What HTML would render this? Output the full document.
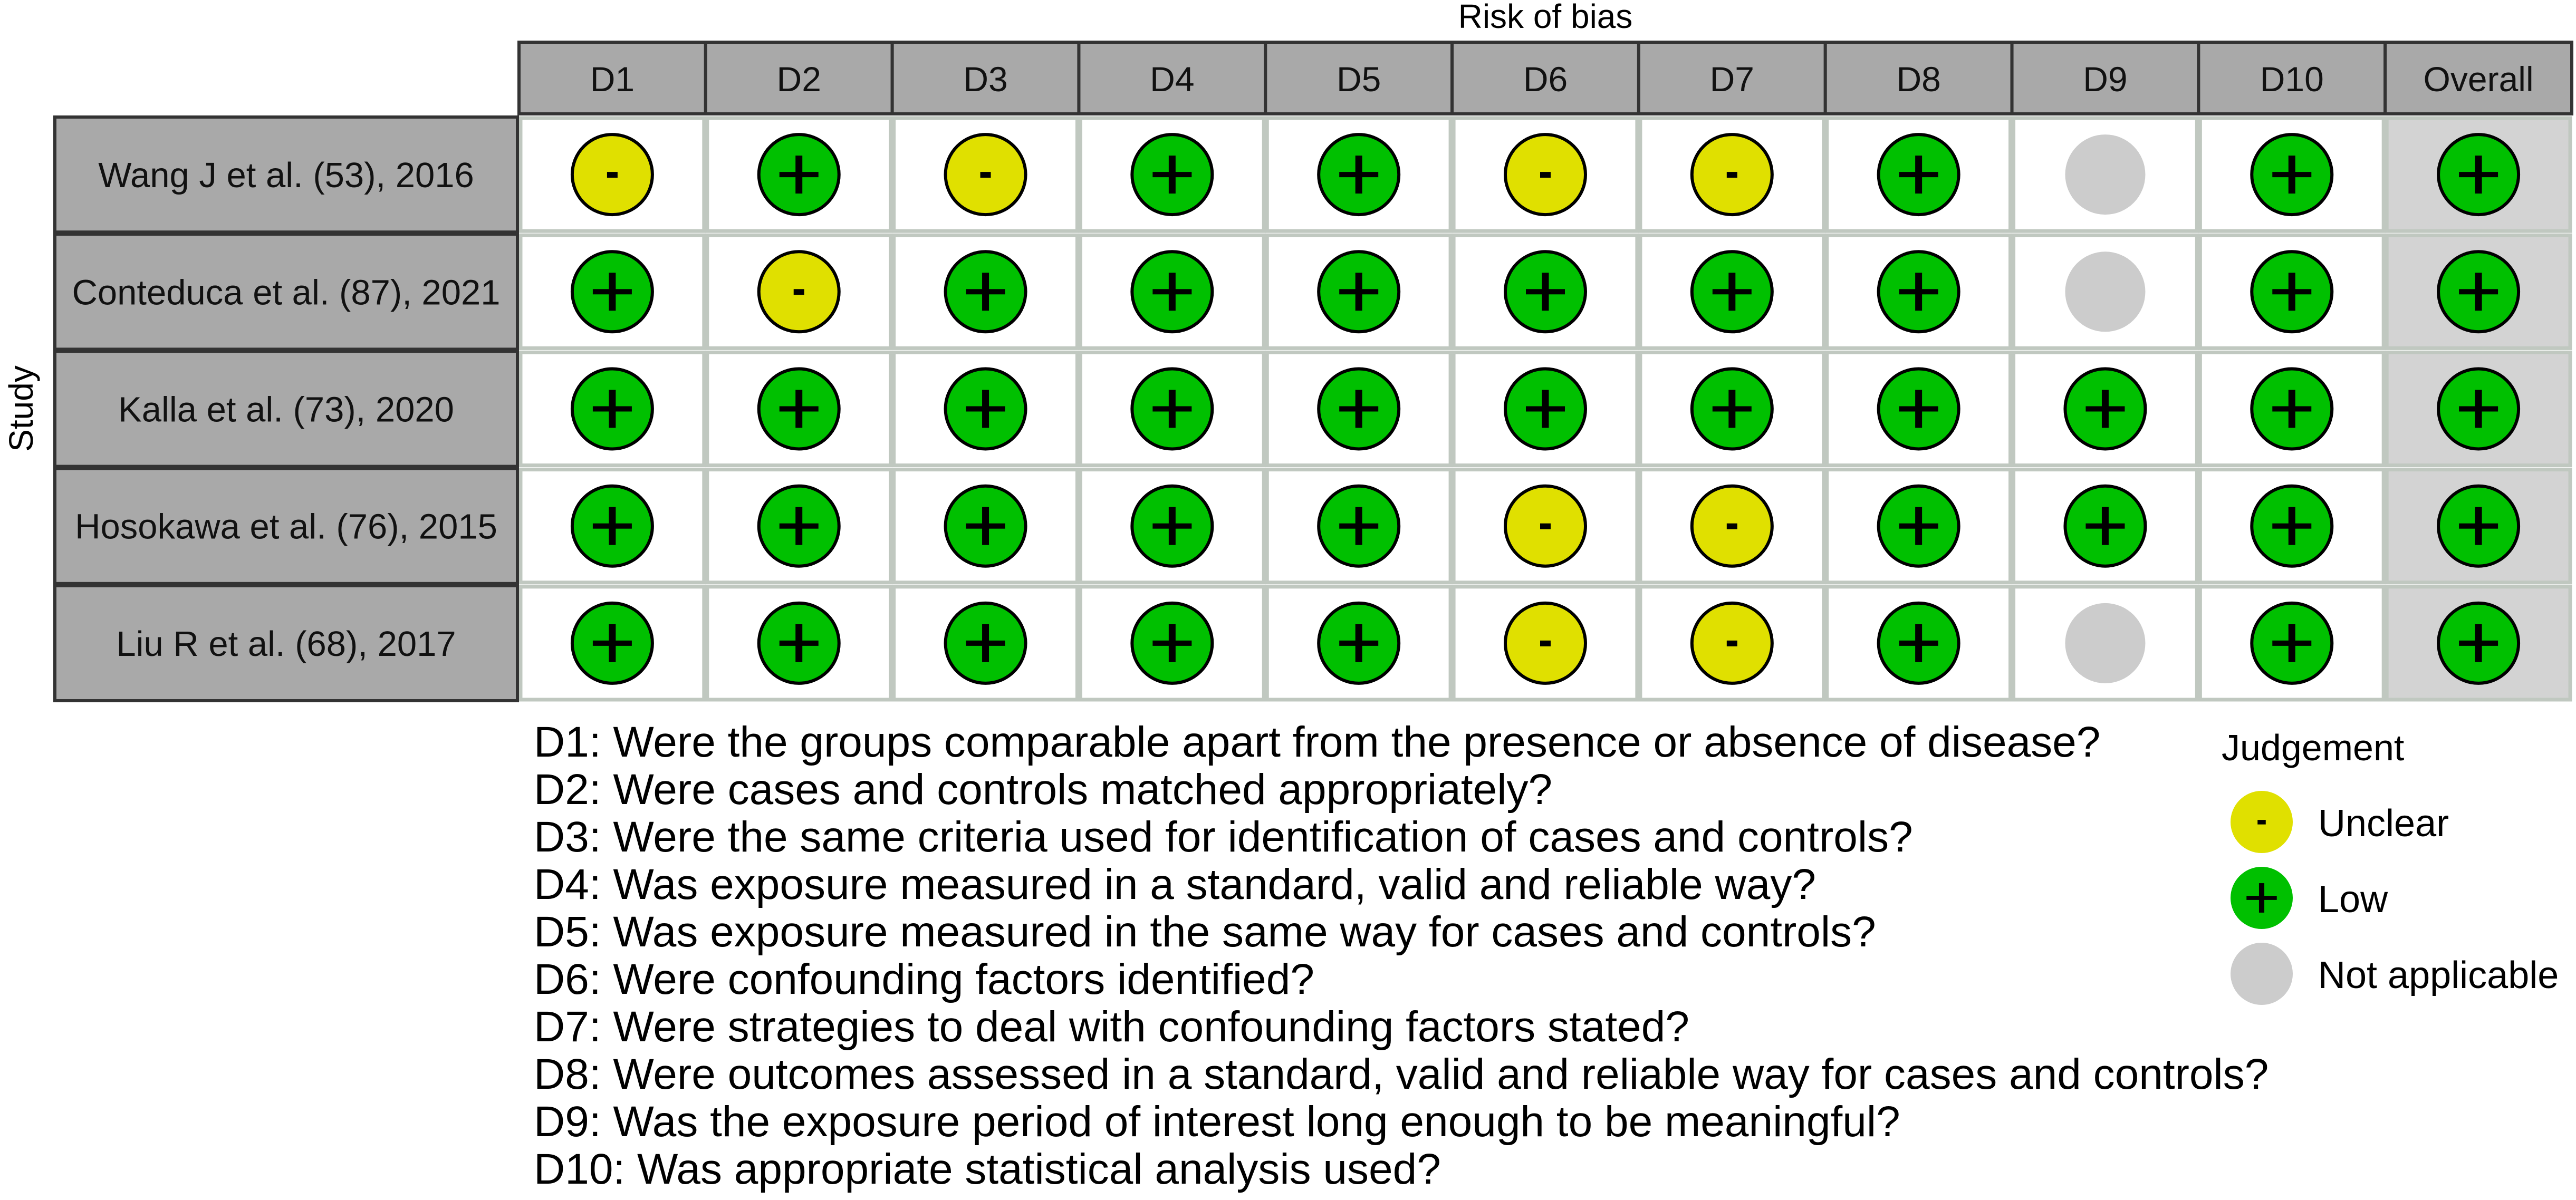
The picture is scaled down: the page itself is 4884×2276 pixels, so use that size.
<!DOCTYPE html>
<html><head><meta charset="utf-8"><style>
html,body{margin:0;padding:0;background:#fff;}
svg{display:block;font-family:"Liberation Sans",Arial,sans-serif;}
</style></head><body>
<svg id="chart" width="4884" height="2276" viewBox="0 0 4884 2276" xmlns="http://www.w3.org/2000/svg">
<text x="2930" y="53" font-size="64" text-anchor="middle">Risk of bias</text>
<text x="0" y="0" font-size="64" text-anchor="middle" transform="translate(62,775) rotate(-90)">Study</text>
<g id="grid"></g>
<g id="legend"></g>
</svg>
<script>
const domains = ["D1","D2","D3","D4","D5","D6","D7","D8","D9","D10","Overall"];
const studies = ["Wang J et al. (53), 2016","Conteduca et al. (87), 2021","Kalla et al. (73), 2020","Hosokawa et al. (76), 2015","Liu R et al. (68), 2017"];
const judgements = [
 ["U","L","U","L","L","U","U","L","N","L","L"],
 ["L","U","L","L","L","L","L","L","N","L","L"],
 ["L","L","L","L","L","L","L","L","L","L","L"],
 ["L","L","L","L","L","U","U","L","L","L","L"],
 ["L","L","L","L","L","U","U","L","N","L","L"]
];
const questions = [
 "D1: Were the groups comparable apart from the presence or absence of disease?",
 "D2: Were cases and controls matched appropriately?",
 "D3: Were the same criteria used for identification of cases and controls?",
 "D4: Was exposure measured in a standard, valid and reliable way?",
 "D5: Was exposure measured in the same way for cases and controls?",
 "D6: Were confounding factors identified?",
 "D7: Were strategies to deal with confounding factors stated?",
 "D8: Were outcomes assessed in a standard, valid and reliable way for cases and controls?",
 "D9: Was the exposure period of interest long enough to be meaningful?",
 "D10: Was appropriate statistical analysis used?"
];
const legendCodes = ["U","L","N"];
const legendLabels = ["Unclear","Low","Not applicable"];

const NS="http://www.w3.org/2000/svg";
const fills={U:"#e0e000",L:"#00c000",N:"#cccccc"};
const gx0=984,gx1=4876,hy0=80,hy1=216,ry0=220,ry1=1331,sx0=104,sx1=981;
const cw=(gx1-gx0)/domains.length, rh=(ry1-ry0)/studies.length;
const colX=i=>gx0+i*cw, rowY=j=>ry0+j*rh;
function mk(tag,attrs,parent){const e=document.createElementNS(NS,tag);for(const k in attrs)e.setAttribute(k,attrs[k]);parent.appendChild(e);return e;}
const g=document.getElementById('grid');

domains.forEach((d,i)=>{
 const r=mk('rect',{x:colX(i),y:hy0,width:cw,height:hy1-hy0,fill:"#a9a9a9",stroke:"#333",'stroke-width':6},g);
 
 
 const t=mk('text',{x:colX(i)+cw/2,y:173,'font-size':66,'text-anchor':'middle',fill:"#111"},g);
 t.textContent=d;
 
 
});
domains.forEach((d,i)=>{
 studies.forEach((s,j)=>{
  const r=mk('rect',{x:colX(i)+3,y:rowY(j)+4,width:cw-6,height:rh-8,fill:d==="Overall"?"#d3d3d3":"#fff",stroke:"#c0c8c0",'stroke-width':7},g);
  
  
 });
});
studies.forEach((s,j)=>{
 const r=mk('rect',{x:sx0,y:rowY(j)+2,width:sx1-sx0,height:rh-4,fill:"#a9a9a9",stroke:"#333",'stroke-width':6},g);
 
 
 const t=mk('text',{x:(sx0+sx1)/2,y:rowY(j)+rh/2+24,'font-size':67,'text-anchor':'middle',fill:"#111"},g);
 t.textContent=s;
 
 
});
function drawMark(code,cx,cy,r,parent,stroke){
 const c=mk('ellipse',{cx:cx,cy:cy,rx:r,ry:r,fill:fills[code]},parent);
 if(stroke&&code!=="N"){c.setAttribute('stroke','#000');c.setAttribute('stroke-width',6);}
 
 
 const k=r/76;
 if(code==="L"){
  mk('rect',{x:cx-37*k,y:cy-5*k,width:74*k,height:10*k,fill:"#000"},parent);
  mk('rect',{x:cx-6.5*k,y:cy-36*k,width:13*k,height:72*k,fill:"#000"},parent);
 } else if(code==="U"){
  mk('rect',{x:cx-10*k,y:cy-5*k,width:20*k,height:11*k,fill:"#000"},parent);
 }
}
judgements.forEach((row,j)=>row.forEach((code,i)=>{
 drawMark(code,colX(i)+cw/2,rowY(j)+rh/2,76,g,true);
}));
questions.forEach((q,i)=>{
 const t=mk('text',{x:1012,y:1435+i*90,'font-size':82,fill:"#000"},g);
 t.textContent=q;
 
 
});
const lg=document.getElementById('legend');
const lt=mk('text',{x:4212,y:1442,'font-size':70,fill:"#000"},lg);
lt.textContent="Judgement";


legendCodes.forEach((code,i)=>{
 const cy=1559+i*144;
 drawMark(code,4288,cy,59,lg,false);
 const t=mk('text',{x:4395,y:cy+27,'font-size':72,fill:"#000"},lg);
 t.textContent=legendLabels[i];
 
 
});
</script>
</body></html>
